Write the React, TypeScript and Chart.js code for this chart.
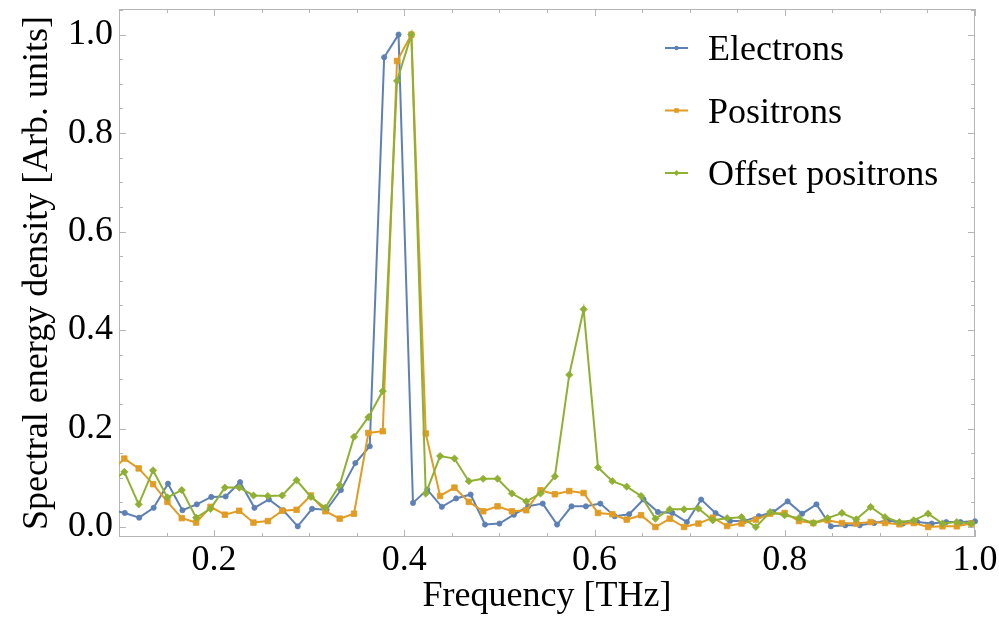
import React, { useEffect, useRef } from "react";
import { Chart, registerables } from "chart.js";

Chart.register(...registerables);

// Frequency grids [THz]
const freqElectrons = [
  0.0909, 0.1061, 0.1212, 0.1364, 0.1515, 0.1667, 0.1818, 0.197, 0.2121, 0.2273,
  0.2424, 0.2576, 0.2727, 0.2879, 0.303, 0.3182, 0.3333, 0.3485, 0.3636, 0.3788,
  0.3939, 0.4091, 0.4242, 0.4394, 0.4545, 0.4697, 0.4848, 0.5, 0.5152, 0.5303,
  0.5455, 0.5606, 0.5758, 0.5909, 0.6061, 0.6212, 0.6364, 0.6515, 0.6667, 0.6818,
  0.697, 0.7121, 0.7273, 0.7424, 0.7576, 0.7727, 0.7879, 0.803, 0.8182, 0.8333,
  0.8485, 0.8636, 0.8788, 0.8939, 0.9091, 0.9242, 0.9394, 0.9545, 0.9697, 0.9848,
  1.0,
];

const freqPositrons = [
  0.0905, 0.1056, 0.1207, 0.1358, 0.1509, 0.166, 0.1811, 0.1962, 0.2113, 0.2264,
  0.2414, 0.2565, 0.2716, 0.2867, 0.3018, 0.3169, 0.332, 0.3471, 0.3622, 0.3773,
  0.3923, 0.4074, 0.4225, 0.4376, 0.4527, 0.4678, 0.4829, 0.498, 0.5131, 0.5282,
  0.5432, 0.5583, 0.5734, 0.5885, 0.6036, 0.6187, 0.6338, 0.6489, 0.664, 0.6791,
  0.6941, 0.7092, 0.7243, 0.7394, 0.7545, 0.7696, 0.7847, 0.7998, 0.8149, 0.83,
  0.845, 0.8601, 0.8752, 0.8903, 0.9054, 0.9205, 0.9356, 0.9507, 0.9658, 0.9809,
  0.9959, 1.011,
];

// Spectral energy density [Arb. units]
const electrons = [
  0.035, 0.0285, 0.019, 0.039, 0.088, 0.034, 0.046, 0.061, 0.062, 0.091,
  0.039, 0.056, 0.034, 0.0014, 0.037, 0.035, 0.075, 0.13, 0.164, 0.954,
  1.0, 0.049, 0.076, 0.041, 0.058, 0.066, 0.005, 0.007, 0.025, 0.042,
  0.0475, 0.005, 0.042, 0.042, 0.0475, 0.022, 0.026, 0.056, 0.0305, 0.0285,
  0.01, 0.0557, 0.028, 0.012, 0.012, 0.022, 0.0305, 0.052, 0.027, 0.046,
  0.0014, 0.0035, 0.0035, 0.008, 0.0136, 0.007, 0.01, 0.007, 0.01, 0.01,
  0.0116,
];

const positrons = [
  0.11, 0.139, 0.119, 0.087, 0.051, 0.018, 0.009, 0.041, 0.025, 0.033,
  0.009, 0.012, 0.033, 0.035, 0.064, 0.032, 0.017, 0.027, 0.191, 0.1945,
  0.9465, 1.0, 0.19, 0.063, 0.08, 0.051, 0.032, 0.042, 0.032, 0.034,
  0.0746, 0.0665, 0.073, 0.069, 0.0285, 0.026, 0.015, 0.024, 0.0, 0.017,
  0.0, 0.007, 0.019, 0.002, 0.007, 0.015, 0.027, 0.0285, 0.012, 0.008,
  0.0136, 0.008, 0.007, 0.01, 0.008, 0.0055, 0.008, 0.0, 0.0014, 0.0014,
  0.007, 0.008,
];

const offsetPositrons = [
  0.089, 0.112, 0.046, 0.115, 0.06, 0.075, 0.019, 0.037, 0.08, 0.08,
  0.064, 0.063, 0.064, 0.095, 0.061, 0.039, 0.085, 0.183, 0.223, 0.276,
  0.906, 1.0, 0.068, 0.144, 0.139, 0.093, 0.098, 0.098, 0.068, 0.052,
  0.068, 0.103, 0.309, 0.442, 0.121, 0.093, 0.082, 0.063, 0.017, 0.036,
  0.036, 0.0374, 0.0136, 0.018, 0.02, 0.0, 0.0305, 0.024, 0.018, 0.008,
  0.018, 0.0285, 0.0156, 0.0407, 0.02, 0.01, 0.0136, 0.027, 0.007, 0.01,
  0.007, 0.008,
];

const seriesNames = ["Electrons", "Positrons", "Offset positrons"];

const xTicks = [0.2, 0.4, 0.6, 0.8, 1.0];
const xTickLabels = ["0.2", "0.4", "0.6", "0.8", "1.0"];
const yTicks = [0.0, 0.2, 0.4, 0.6, 0.8, 1.0];
const yTickLabels = ["0.0", "0.2", "0.4", "0.6", "0.8", "1.0"];

const xTitle = "Frequency [THz]";
const yTitle = "Spectral energy density [Arb. units]";

const FONT = "'Liberation Serif', 'Times New Roman', Times, serif";
const COLORS = ["#5E81B5", "#E19C24", "#8FB032"];
const FRAME = "#b5b5b5";

const pairs = (xs: number[], ys: number[]) => ys.map((y, i) => ({ x: xs[i], y }));

const framePlugin = {
  id: "mmaFrame",
  beforeDatasetsDraw(chart: any) {
    const { ctx, chartArea: a, scales } = chart;
    const xs = scales.x;
    const ys = scales.y;
    ctx.save();
    ctx.strokeStyle = FRAME;
    ctx.lineWidth = 1;
    ctx.strokeRect(a.left + 0.5, a.top + 0.5, a.right - a.left - 1, a.bottom - a.top - 1);
    ctx.beginPath();
    for (let i = 2; i <= 20; i++) {
      const v = i * 0.05;
      if (v < xs.min - 1e-9 || v > xs.max + 1e-9) continue;
      const len = i % 4 === 0 ? 7 : 4;
      const px = Math.round(xs.getPixelForValue(v)) + 0.5;
      ctx.moveTo(px, a.bottom);
      ctx.lineTo(px, a.bottom - len);
      ctx.moveTo(px, a.top);
      ctx.lineTo(px, a.top + len);
    }
    for (let i = 0; i <= 21; i++) {
      const v = i * 0.05;
      if (v < ys.min - 1e-9 || v > ys.max + 1e-9) continue;
      const len = i % 4 === 0 ? 7 : 4;
      const py = Math.round(ys.getPixelForValue(v)) + 0.5;
      ctx.moveTo(a.left, py);
      ctx.lineTo(a.left + len, py);
      ctx.moveTo(a.right, py);
      ctx.lineTo(a.right - len, py);
    }
    ctx.stroke();
    ctx.restore();
  },
};

const legendPlugin = {
  id: "mmaLegend",
  afterDraw(chart: any) {
    const { ctx } = chart;
    const ds = chart.data.datasets;
    const lineX0 = 665;
    const lineX1 = 688;
    const textX = 708;
    const baseline0 = 60;
    const rowGap = 62.5;
    ctx.save();
    ds.forEach((d: any, i: number) => {
      const base = baseline0 + i * rowGap;
      const my = base - 12;
      ctx.strokeStyle = d.borderColor;
      ctx.lineWidth = 2;
      ctx.beginPath();
      ctx.moveTo(lineX0, my);
      ctx.lineTo(lineX1, my);
      ctx.stroke();
      ctx.fillStyle = d.borderColor;
      const cx = (lineX0 + lineX1) / 2;
      ctx.beginPath();
      if (d.pointStyle === "circle") {
        ctx.arc(cx, my, 2.2, 0, Math.PI * 2);
      } else if (d.pointStyle === "rect") {
        ctx.rect(cx - 2.3, my - 2.3, 4.6, 4.6);
      } else {
        ctx.moveTo(cx - 3, my);
        ctx.lineTo(cx, my - 3);
        ctx.lineTo(cx + 3, my);
        ctx.lineTo(cx, my + 3);
        ctx.closePath();
      }
      ctx.fill();
      ctx.fillStyle = "#000";
      ctx.font = `36px ${FONT}`;
      ctx.textAlign = "left";
      ctx.textBaseline = "alphabetic";
      ctx.fillText(d.label, textX, base);
    });
    ctx.restore();
  },
};

export default function App() {
  const canvasRef = useRef<HTMLCanvasElement | null>(null);

  useEffect(() => {
    const canvas = canvasRef.current;
    if (!canvas) return;
    const tickFont = { family: FONT, size: 36 };
    const chart = new Chart(canvas, {
      type: "line",
      data: {
        datasets: [
          {
            label: seriesNames[0],
            data: pairs(freqElectrons, electrons),
            borderColor: COLORS[0],
            backgroundColor: COLORS[0],
            pointBackgroundColor: COLORS[0],
            pointBorderColor: COLORS[0],
            pointStyle: "circle",
            pointRadius: 2.6,
            pointBorderWidth: 0.8,
            borderWidth: 2,
            order: 3,
            clip: { left: 0, top: 5, right: 5, bottom: 0 },
          },
          {
            label: seriesNames[1],
            data: pairs(freqPositrons, positrons),
            borderColor: COLORS[1],
            backgroundColor: COLORS[1],
            pointBackgroundColor: COLORS[1],
            pointBorderColor: COLORS[1],
            pointStyle: "rect",
            pointRadius: 3.9,
            pointBorderWidth: 0.8,
            borderWidth: 2,
            order: 2,
            clip: { left: 0, top: 5, right: 0, bottom: 0 },
          },
          {
            label: seriesNames[2],
            data: pairs(freqPositrons, offsetPositrons),
            borderColor: COLORS[2],
            backgroundColor: COLORS[2],
            pointBackgroundColor: COLORS[2],
            pointBorderColor: COLORS[2],
            pointStyle: "rectRot",
            pointRadius: 3.6,
            pointBorderWidth: 0.8,
            borderWidth: 2,
            order: 1,
            clip: { left: 0, top: 5, right: 0, bottom: 0 },
          },
        ] as any,
      },
      options: {
        animation: false,
        responsive: false,
        devicePixelRatio: 1,
        layout: { padding: { left: 0, right: 24, top: 9, bottom: 0 } },
        elements: { line: { tension: 0 } },
        plugins: {
          legend: { display: false },
          tooltip: { enabled: false },
        },
        scales: {
          x: {
            type: "linear",
            min: 0.1,
            max: 1.0,
            afterBuildTicks: (s: any) => {
              s.ticks = xTicks.map((v) => ({ value: v }));
            },
            afterFit: (s: any) => {
              s.height = 81;
              s.paddingLeft = 0;
              s.paddingRight = 0;
            },
            grid: { display: false, drawTicks: false },
            border: { display: false },
            ticks: {
              autoSkip: false,
              maxRotation: 0,
              minRotation: 0,
              padding: 2,
              color: "#000",
              font: tickFont,
              callback: (v: any) => {
                const i = xTicks.findIndex((t) => Math.abs(t - Number(v)) < 1e-6);
                return i >= 0 ? xTickLabels[i] : "";
              },
            },
            title: {
              display: true,
              text: xTitle,
              color: "#000",
              font: { family: FONT, size: 36 },
              padding: { top: 0, bottom: 0 },
            },
          },
          y: {
            type: "linear",
            min: -0.0203,
            max: 1.052,
            afterBuildTicks: (s: any) => {
              s.ticks = yTicks.map((v) => ({ value: v }));
            },
            afterFit: (s: any) => {
              s.width = 119;
              s.paddingTop = 0;
              s.paddingBottom = 0;
            },
            grid: { display: false, drawTicks: false },
            border: { display: false },
            ticks: {
              autoSkip: false,
              padding: 6,
              color: "#000",
              font: tickFont,
              callback: (v: any) => {
                const i = yTicks.findIndex((t) => Math.abs(t - Number(v)) < 1e-6);
                return i >= 0 ? yTickLabels[i] : "";
              },
            },
            title: {
              display: true,
              text: yTitle,
              color: "#000",
              font: { family: FONT, size: 36 },
              padding: { top: 16, bottom: 0 },
            },
          },
        },
      },
      plugins: [framePlugin, legendPlugin],
    } as any);
    return () => chart.destroy();
  }, []);

  return (
    <div style={{ position: "fixed", left: 0, top: 0, width: 999, height: 618, background: "#fff" }}>
      <canvas ref={canvasRef} width={999} height={618} style={{ display: "block" }} />
    </div>
  );
}
